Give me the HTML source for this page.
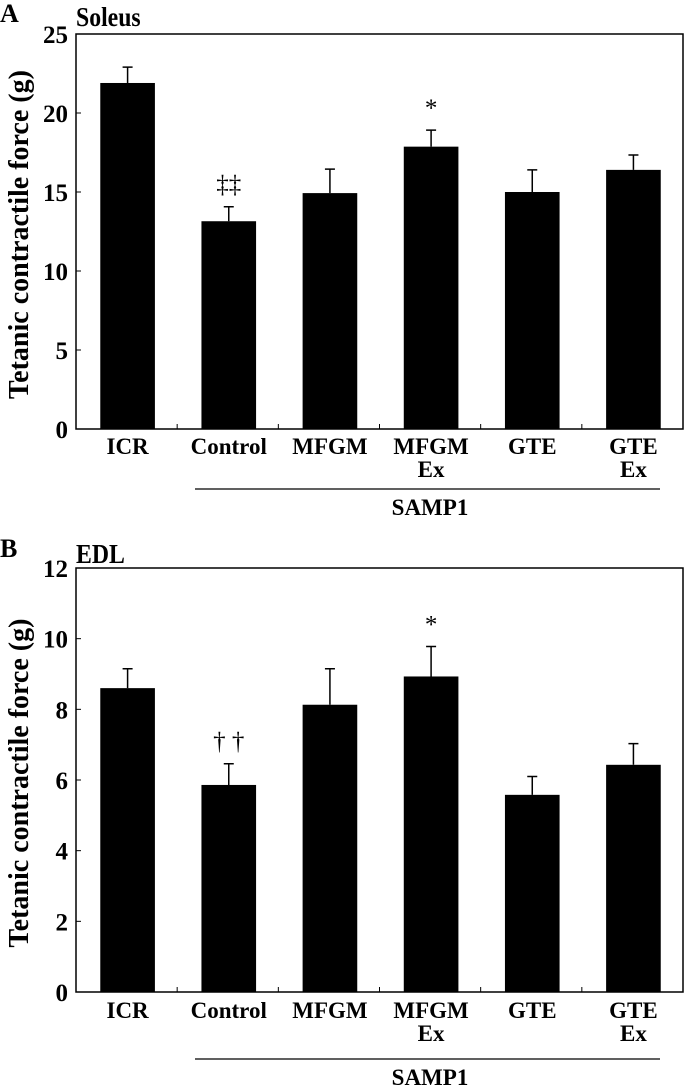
<!DOCTYPE html>
<html><head><meta charset="utf-8"><style>
html,body{margin:0;padding:0;background:#fff;}
svg{display:block;font-family:"Liberation Serif",serif;font-weight:bold;}
</style></head><body>
<svg id="fig" width="685" height="1085" viewBox="0 0 685 1085"></svg>
<script>
const categories = ["ICR","Control","MFGM","MFGM|Ex","GTE","GTE|Ex"];
const soleusMeans = [21.9, 13.15, 14.93, 17.87, 15.0, 16.4];
const soleusErr = [1.0, 0.92, 1.52, 1.05, 1.4, 0.94];
const soleusTicks = [0,5,10,15,20,25];
const soleusMarks = ["", "‡‡", "", "*", "", ""];
const edlMeans = [8.6, 5.86, 8.13, 8.93, 5.58, 6.43];
const edlErr = [0.55, 0.6, 1.02, 0.85, 0.52, 0.6];
const edlTicks = [0,2,4,6,8,10,12];
const edlMarks = ["", "† †", "", "*", "", ""];

const NS="http://www.w3.org/2000/svg";
const svg=document.getElementById('fig');
function el(tag,attrs,parent){const e=document.createElementNS(NS,tag);for(const k in attrs)e.setAttribute(k,attrs[k]);(parent||svg).appendChild(e);return e;}
function txt(s,attrs,parent){const t=el('text',attrs,parent);t.textContent=s;return t;}

function panel(cfg){
  const g=el('g',{});
  
  
  const L=76,R=683,T=cfg.top,B=cfg.bottom,max=cfg.max;
  const y=v=>B-(v/max)*(B-T);
  const slot=(R-L)/categories.length;
  const x=i=>L+i*slot;
  const letter=txt(cfg.letter,{x:0,y:cfg.letterY,'font-size':26},g);
  
  
  const title=txt(cfg.title,{x:76,y:cfg.titleY,'font-size':25,transform:`translate(76,${cfg.titleY}) scale(0.95,1.1) translate(-76,${-cfg.titleY})`},g);
  
  
  const box=el('rect',{x:L,y:T,width:R-L,height:B-T,fill:'none',stroke:'#000','stroke-width':1.5},g);
  
  
  cfg.ticks.forEach(t=>{
    const lab=txt(String(t),{x:L-8,y:y(t)+9,'font-size':25,'text-anchor':'end'},g);
    
    
    const tk=el('line',{x1:L,x2:L+5,y1:y(t),y2:y(t),stroke:'#000','stroke-width':1},g);
    
    
  });
  for(let i=1;i<categories.length;i++){
    const tk=el('line',{x1:x(i),x2:x(i),y1:B,y2:B-5,stroke:'#000','stroke-width':1},g);
    
    
  }
  const yl=txt('Tetanic contractile force (g)',{x:0,y:0,'font-size':28,'text-anchor':'middle',transform:`translate(28,${(T+B)/2+3}) rotate(-90)`},g);
  
  
  categories.forEach((c,i)=>{
    const bx=x(i)+0.24*slot, bw=0.54*slot, cx=bx+bw/2;
    const v=cfg.means[i], e=cfg.err[i];
    const bar=el('rect',{x:bx,y:y(v),width:bw,height:B-y(v),fill:'#000'},g);
    
    
    const eb=el('path',{d:`M${cx} ${y(v)} V${y(v+e)} M${cx-5} ${y(v+e)} H${cx+5}`,stroke:'#000','stroke-width':1.5,fill:'none'},g);
    
    
    if(cfg.marks[i]){
      const m=txt(cfg.marks[i],{x:cx,y:y(v+e)-cfg.markGap,'font-size':25,'font-weight':'normal','text-anchor':'middle'},g);
      
      
    }
    c.split('|').forEach((ln,j)=>{
      const t=txt(ln,{x:cx,y:cfg.catY+j*23,'font-size':23,'text-anchor':'middle'},g);
      
      
    });
  });
  const sl=el('line',{x1:195,x2:660,y1:cfg.sampY,y2:cfg.sampY,stroke:'#000','stroke-width':1.2},g);
  
  
  const st=txt('SAMP1',{x:430,y:cfg.sampY+26,'font-size':23,'text-anchor':'middle'},g);
  
  
}
panel({name:'panel-a-soleus',letter:'A',letterY:22,title:'Soleus',titleY:26,top:34,bottom:429,max:25,ticks:soleusTicks,means:soleusMeans,err:soleusErr,marks:soleusMarks,markGap:14,catY:454,sampY:489});
panel({name:'panel-b-edl',letter:'B',letterY:557,title:'EDL',titleY:563,top:568,bottom:992,max:12,ticks:edlTicks,means:edlMeans,err:edlErr,marks:edlMarks,markGap:14,catY:1018,sampY:1059});
</script>
</body></html>
